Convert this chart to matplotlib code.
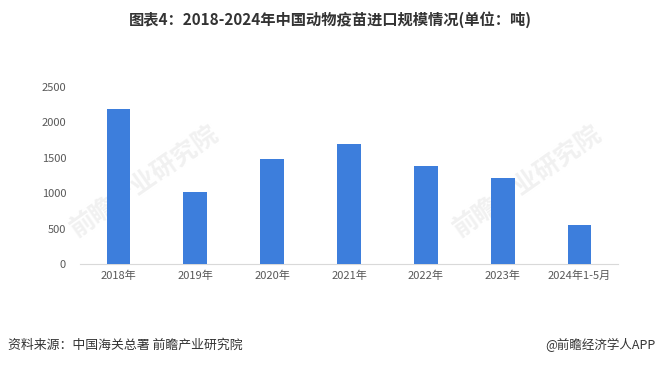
import matplotlib.pyplot as plt

plt.rcParams['font.family'] = ['Noto Sans CJK SC', 'DejaVu Sans']

# 数据
categories = ['2018年', '2019年', '2020年', '2021年', '2022年', '2023年', '2024年1-5月']
values = [2190, 1010, 1490, 1690, 1380, 1215, 550]
yticks = [0, 500, 1000, 1500, 2000, 2500]

fig = plt.figure(figsize=(6.6, 3.65), dpi=100)
ax = fig.add_axes([80 / 660, 101 / 365, 538 / 660, 177 / 365])
ax.set_zorder(1)
ax.patch.set_alpha(0)

ax.bar(range(len(categories)), values, width=0.31, color='#3D7EDC', zorder=3)

ax.set_xlim(-0.5, len(categories) - 0.5)
ax.set_ylim(0, 2500)
ax.set_yticks(yticks)
ax.set_xticks(range(len(categories)))
ax.set_xticklabels(categories)
ax.tick_params(axis='both', length=0, labelsize=8, colors='#595959')
ax.tick_params(axis='y', pad=10)
ax.tick_params(axis='x', pad=5)

for side in ['top', 'right', 'left']:
    ax.spines[side].set_visible(False)
ax.spines['bottom'].set_color('#D9D9D9')

# 水印
for x, y in [(0.22, 0.5), (0.8, 0.5)]:
    fig.text(x, y, '前瞻产业研究院', fontsize=18, color='#F1F1F1', rotation=35,
             ha='center', va='center', fontweight='bold', zorder=0)

# 标题
fig.text(0.5, 0.945, '图表4：2018-2024年中国动物疫苗进口规模情况(单位：吨)',
         ha='center', va='center', fontsize=11, fontweight='bold', color='#333333')

# 来源
fig.text(8 / 660, 0.055, '资料来源：中国海关总署 前瞻产业研究院', ha='left', va='center',
         fontsize=9.3, color='#333333')
fig.text(655 / 660, 0.055, '@前瞻经济学人APP', ha='right', va='center',
         fontsize=9, color='#333333')

fig.savefig('out.png', dpi=100)
